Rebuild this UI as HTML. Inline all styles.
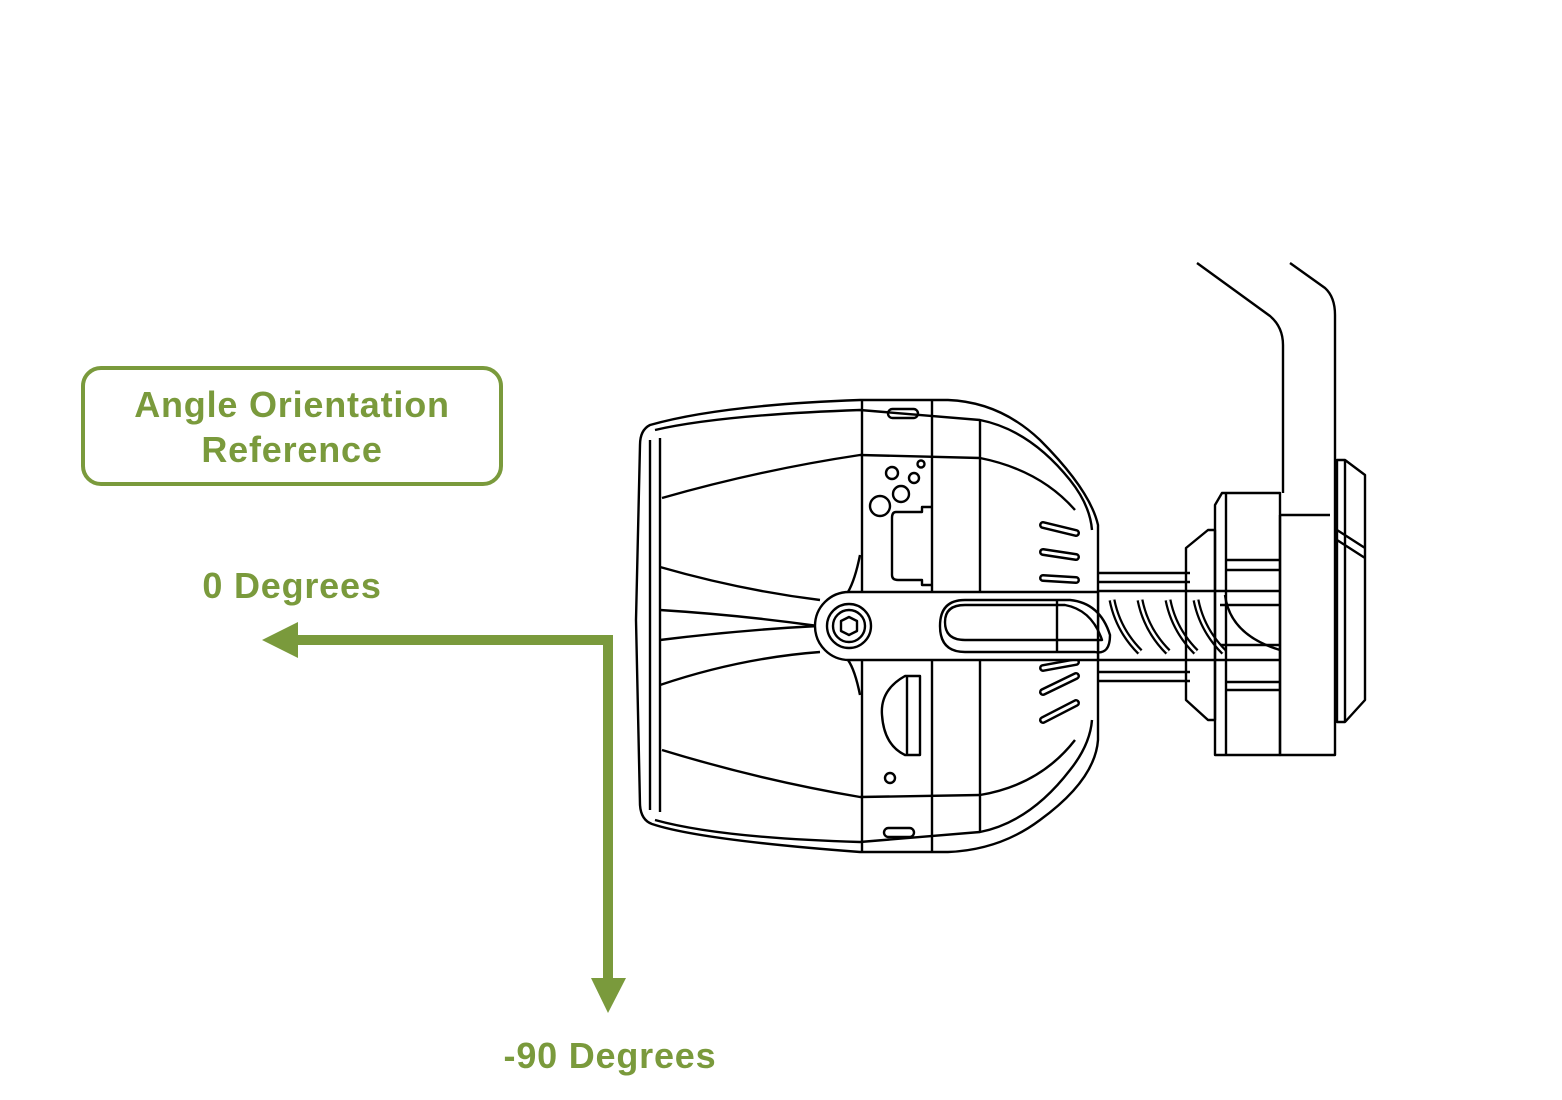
<!DOCTYPE html>
<html><head><meta charset="utf-8"><style>
html,body{margin:0;padding:0;background:#fff;width:1562px;height:1100px;overflow:hidden}
svg{display:block}
text{font-family:"Liberation Sans",sans-serif;font-weight:bold;fill:#7a9a3c;letter-spacing:0.8px}
</style></head><body>
<svg width="1562" height="1100" viewBox="0 0 1562 1100">
<rect x="83" y="368" width="418" height="116" rx="18" fill="none" stroke="#7a9a3c" stroke-width="4"/>
<text x="292" y="417" font-size="36" text-anchor="middle">Angle Orientation</text>
<text x="292" y="462" font-size="36" text-anchor="middle">Reference</text>
<text x="292" y="598" font-size="36" text-anchor="middle">0 Degrees</text>
<text x="610" y="1068" font-size="36" text-anchor="middle">-90 Degrees</text>
<path d="M613 640 H296" stroke="#7a9a3c" stroke-width="10" fill="none"/>
<polygon points="262,640 298,622 298,658" fill="#7a9a3c"/>
<path d="M608 635 V980" stroke="#7a9a3c" stroke-width="10" fill="none"/>
<polygon points="608,1013 591,978 626,978" fill="#7a9a3c"/>
<g fill="none" stroke="#000" stroke-width="2.4" stroke-linejoin="round">
<path d="M1197 263 L1270 316 Q1283 327 1283 345 V493"/>
<path d="M1290 263 L1325 288 Q1335 297 1335 315 V515"/>
<path d="M650 425 Q640 430 640 445 L636 620 L640 805 Q641 820 652 824 Q700 840 860 852 L948 852 Q1000 850 1040 820 Q1095 780 1098 740 L1098 525 Q1090 490 1040 440 Q1000 402 948 400 L860 400 Q720 405 650 425 Z"/>
<path d="M655 430 Q720 415 860 410 L980 420 Q1030 430 1070 480 Q1090 505 1092 530"/>
<path d="M655 820 Q720 838 860 842 L980 832 Q1030 822 1070 770 Q1090 745 1092 720"/>
<path d="M660 438 V812"/><path d="M650 440 V810"/>
<path d="M862 400 V852"/><path d="M932 400 V852"/><path d="M980 420 V832"/>
<path d="M662 498 Q760 470 860 455 L980 458 Q1040 470 1075 510"/>
<path d="M662 750 Q760 780 860 797 L980 795 Q1040 785 1075 740"/>
<path d="M660 567 Q740 590 820 600"/><path d="M660 685 Q740 658 820 652"/>
<path d="M660 610 Q740 615 818 626 Q740 630 660 640"/>
<path d="M860 555 Q855 580 848 592"/><path d="M860 695 Q855 670 848 660"/>
<rect x="888" y="409" width="30" height="9" rx="4.5"/>
<rect x="884" y="828" width="30" height="9" rx="4.5"/>
<circle cx="892" cy="473" r="6"/><circle cx="914" cy="478" r="5"/><circle cx="921" cy="464" r="3.5"/><circle cx="901" cy="494" r="8"/><circle cx="880" cy="506" r="10"/><circle cx="890" cy="778" r="5"/>
<path d="M932 507 H922 V512 H896 Q892 512 892 518 V575 Q892 580 898 580 H922 V585 H932"/>
<path d="M920 676 H905 Q880 690 882 715 Q884 745 905 755 H920 Z"/><path d="M907 676 V755"/>
<path d="M1043 525 L1076 533 M1043 552 L1076 557 M1043 578 L1076 580" stroke-width="8" stroke-linecap="round"/>
<path d="M1043 525 L1076 533 M1043 552 L1076 557 M1043 578 L1076 580" stroke="#fff" stroke-width="3" stroke-linecap="round"/>
<path d="M1043 668 L1076 662 M1043 692 L1076 676 M1043 720 L1076 703" stroke-width="8" stroke-linecap="round"/>
<path d="M1043 668 L1076 662 M1043 692 L1076 676 M1043 720 L1076 703" stroke="#fff" stroke-width="3" stroke-linecap="round"/>
<path d="M849 592 H1098 V660 H849 A34 34 0 0 1 849 592 Z" fill="#fff"/>
<circle cx="849" cy="626" r="22"/><circle cx="849" cy="626" r="16"/>
<polygon points="849,617 857,621 857,631 849,635 841,631 841,621"/>
<path d="M965 600 H1070 Q1100 603 1110 635 Q1110 655 1095 652 H965 Q940 652 940 626 Q940 600 965 600 Z"/>
<path d="M965 605 H1065 Q1092 610 1102 640 H965 Q945 640 945 622 Q945 605 965 605Z"/>
<path d="M1057 600 V652"/>
<path d="M1098 573 H1190 M1098 582 H1190 M1098 672 H1190 M1098 681 H1190"/>
<path d="M1098 591 H1280 M1098 660 H1280 M1220 605 H1280 M1220 645 H1280"/>
<path d="M1112 600 Q1118 630 1140 652 M1140 600 Q1146 630 1168 652 M1168 600 Q1174 630 1196 652 M1196 600 Q1202 630 1224 652" stroke-width="7"/>
<path d="M1112 600 Q1118 630 1140 652 M1140 600 Q1146 630 1168 652 M1168 600 Q1174 630 1196 652 M1196 600 Q1202 630 1224 652" stroke="#fff" stroke-width="2.5"/>
<path d="M1225 595 Q1230 635 1280 650"/>
<path d="M1186 548 L1208 530 H1215 V720 H1208 L1186 700 Z"/>
<path d="M1215 505 L1222 493 H1280 V755 H1215 Z"/>
<path d="M1226 493 V755 M1226 560 H1280 M1226 690 H1280 M1226 570 H1280 M1226 682 H1280"/>
<path d="M1280 515 H1330 M1280 515 V755 H1335 V515"/>
<path d="M1337 460 H1345 L1365 475 V700 L1345 722 H1337 Z M1345 460 V722 M1337 530 L1365 548 M1337 540 L1365 558"/>
</g>
</svg>
</body></html>
